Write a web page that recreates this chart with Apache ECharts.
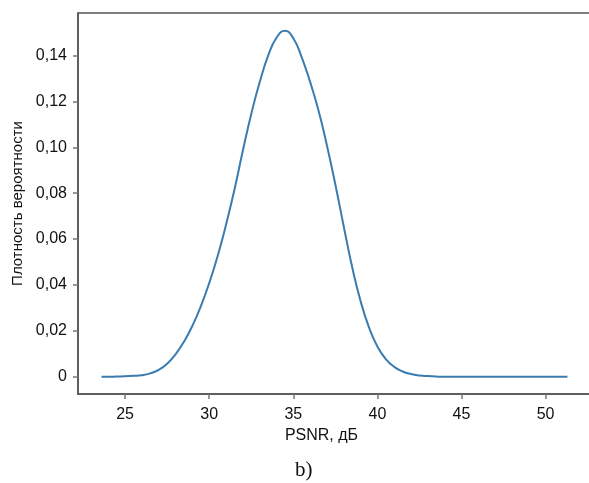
<!DOCTYPE html>
<html>
<head>
<meta charset="utf-8">
<script src="https://cdn.jsdelivr.net/npm/echarts@6/dist/echarts.min.js"></script>
<style>
  html, body { margin: 0; padding: 0; background: #fff; }
  #chart { width: 589px; height: 483px; }
</style>
</head>
<body>
<div id="chart"></div>
<script>
// PSNR, dB
var psnr = [23.6, 24, 24.5, 25, 25.5, 26, 26.5, 27, 27.5, 28, 28.5, 29, 29.5, 30, 30.5, 31, 31.5, 32,
  32.5, 33, 33.5, 34, 34.5, 35, 35.5, 36, 36.5, 37, 37.5, 38, 38.5, 39, 39.5, 40, 40.5, 41,
  41.5, 42, 42.5, 43, 43.5, 44, 45, 46, 47, 48, 49, 50, 51.3];
// probability density
var density = [0, 0, 0.0001, 0.0002, 0.0004, 0.0007, 0.0015, 0.0030, 0.0057, 0.0098, 0.0153, 0.0222,
  0.0307, 0.0408, 0.0525, 0.0662, 0.0815, 0.0985, 0.1145, 0.1283, 0.1398, 0.1477, 0.1508, 0.1475,
  0.1392, 0.1285, 0.1160, 0.1008, 0.0838, 0.0655, 0.0478, 0.0330, 0.0215, 0.0132, 0.0077, 0.0043,
  0.0023, 0.0012, 0.0006, 0.0003, 0.0001, 0, 0, 0, 0, 0, 0, 0, 0];
var xTicks = [25, 30, 35, 40, 45, 50];
var yTicks = [0, 0.02, 0.04, 0.06, 0.08, 0.10, 0.12, 0.14];

var points = psnr.map(function (x, i) { return [x, density[i]]; });
var labelFont = "'Liberation Sans Narrow', 'Arial Narrow', 'Liberation Sans', sans-serif";

var chart = echarts.init(document.getElementById('chart'));
chart.setOption({
  animation: false,
  grid: {
    left: 78, top: 13, width: 513, height: 381,
    outerBoundsMode: 'none',
    show: true, borderColor: '#555', borderWidth: 1.5
  },
  xAxis: {
    type: 'value',
    min: 22.2, max: 52.7,
    name: 'PSNR, дБ',
    nameLocation: 'middle',
    nameGap: 33,
    nameTextStyle: { color: '#111', fontSize: 16, fontFamily: labelFont, padding: [0, 26, 0, 0] },
    axisLine: { show: true, onZero: false, lineStyle: { color: '#555', width: 1.5 } },
    axisTick: { show: true, length: 5, customValues: xTicks, lineStyle: { color: '#777', width: 1.5 } },
    axisLabel: { customValues: xTicks, margin: 13, color: '#111', fontSize: 16, fontFamily: labelFont },
    splitLine: { show: false }
  },
  yAxis: {
    type: 'value',
    min: -0.0075, max: 0.1585,
    name: 'Плотность вероятности',
    nameLocation: 'middle',
    nameRotate: 90,
    nameGap: 38,
    nameTextStyle: { color: '#111', fontSize: 15, fontFamily: labelFont },
    axisLine: { show: true, onZero: false, lineStyle: { color: '#555', width: 1.5 } },
    axisTick: { show: true, length: 5, customValues: yTicks, lineStyle: { color: '#777', width: 1.5 } },
    axisLabel: {
      customValues: yTicks, margin: 11, color: '#111', fontSize: 16, fontFamily: labelFont,
      formatter: function (v) { return v === 0 ? '0' : v.toFixed(2).replace('.', ','); }
    },
    splitLine: { show: false }
  },
  series: [{
    type: 'line',
    data: points,
    smooth: true,
    showSymbol: false,
    lineStyle: { color: '#3a7bb0', width: 2 }
  }],
  graphic: [{
    type: 'text',
    left: 295, top: 460,
    style: { text: 'b)', font: "21px 'Liberation Serif', serif", fill: '#111' }
  }]
});
</script>
</body>
</html>
